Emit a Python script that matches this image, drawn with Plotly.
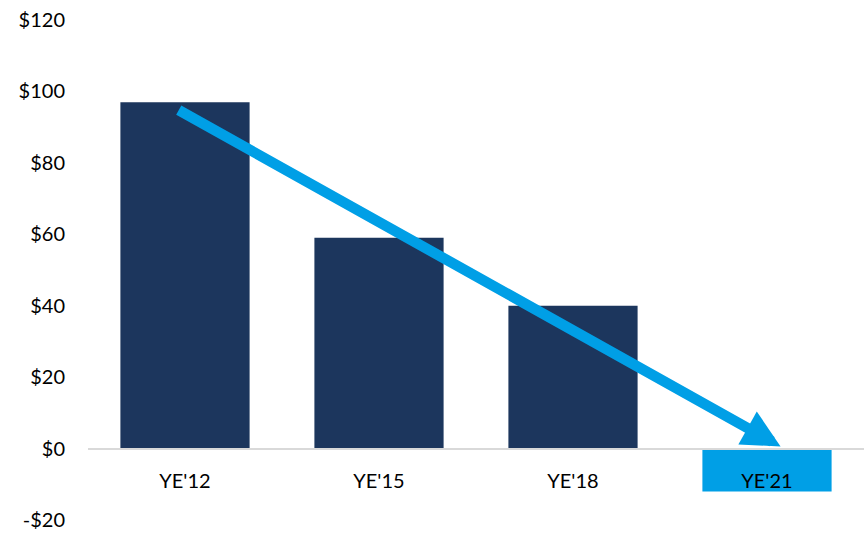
import plotly.graph_objects as go

categories = ["YE'12", "YE'15", "YE'18", "YE'21"]
values = [97, 59, 40, -12]
bar_colors = ["#1C365D", "#1C365D", "#1C365D", "#009FE6"]
y_tickvals = [-20, 0, 20, 40, 60, 80, 100, 120]
y_ticktext = ["-$20", "$0", "$20", "$40", "$60", "$80", "$100", "$120"]

# trend arrow endpoints (category index, value)
arrow_start = (-0.04, 95)
arrow_end = (3.07, 0.6)

fig = go.Figure()
fig.add_trace(go.Bar(x=categories, y=values, marker=dict(color=bar_colors, line=dict(width=0)),
                     hoverinfo="skip"))

fig.add_annotation(x=arrow_end[0], y=arrow_end[1], ax=arrow_start[0], ay=arrow_start[1],
                   xref="x", yref="y", axref="x", ayref="y", text="",
                   showarrow=True, arrowhead=2, arrowsize=0.72, arrowwidth=10.5,
                   arrowcolor="#009FE6", standoff=0, startstandoff=0)

font = dict(family="Lato, 'Open Sans', sans-serif", size=20, color="#000000")
fig.update_layout(
    width=867, height=533,
    margin=dict(l=88, r=3, t=20, b=13),
    paper_bgcolor="white", plot_bgcolor="white",
    bargap=0.334, showlegend=False, font=font,
    xaxis=dict(anchor="free", position=20 / 140, showline=True, linecolor="#D9D9D9",
               linewidth=2, ticks="", showgrid=False, zeroline=False,
               ticklabelstandoff=14, tickfont=font),
    yaxis=dict(range=[-20, 120], tickvals=y_tickvals, ticktext=y_ticktext,
               showgrid=False, zeroline=False, showline=False, ticks="",
               ticklabelstandoff=22, tickfont=font),
)
fig.write_html("out.html", config={"displayModeBar": False},
               post_script="document.body.style.margin='0px';")
